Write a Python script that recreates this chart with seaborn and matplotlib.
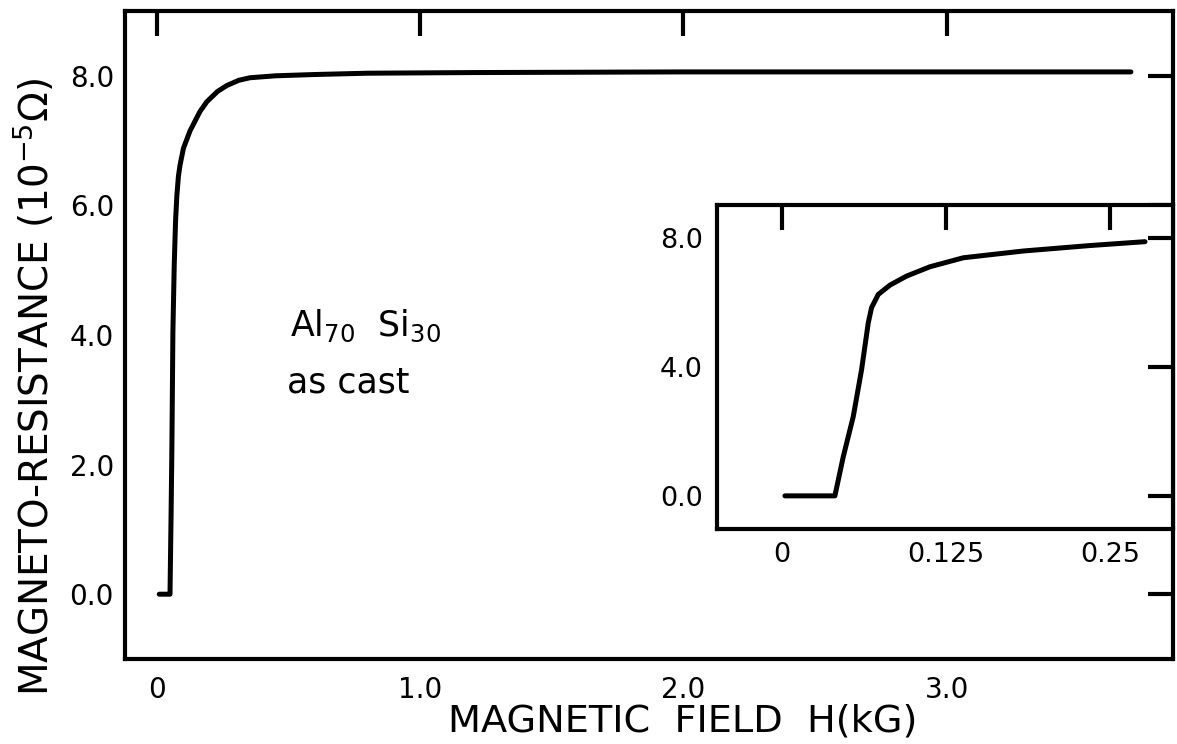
import numpy as np
import pandas as pd
import matplotlib
matplotlib.use("Agg")
import matplotlib.pyplot as plt
import seaborn as sns

# ---- data ----
main_H = [0.008, 0.049, 0.053, 0.056, 0.060, 0.065, 0.070, 0.075, 0.081, 0.087, 0.100, 0.125, 0.163,
          0.189, 0.230, 0.265, 0.310, 0.353, 0.45, 0.6, 0.8, 1.2, 2.0, 3.0, 3.70]
main_R = [0.0, 0.0, 1.2, 2.2, 4.05, 5.07, 5.75, 6.15, 6.45, 6.62, 6.88, 7.15, 7.45,
          7.6, 7.76, 7.85, 7.93, 7.97, 8.0, 8.02, 8.04, 8.05, 8.06, 8.06, 8.06]

inset_H = [0.0025, 0.0405, 0.0469, 0.0545, 0.0608, 0.0659, 0.0684, 0.0735, 0.0824,
           0.095, 0.1128, 0.1382, 0.1838, 0.2346, 0.2764]
inset_R = [0.0, 0.0, 1.22, 2.47, 3.92, 5.38, 5.85, 6.26, 6.55,
           6.83, 7.12, 7.40, 7.61, 7.78, 7.90]

main_xticks = [0, 1.0, 2.0, 3.0]
main_xticklabels = ["0", "1.0", "2.0", "3.0"]
main_yticks = [0, 2, 4, 6, 8]
main_yticklabels = ["0.0", "2.0", "4.0", "6.0", "8.0"]
inset_xticks = [0, 0.125, 0.25]
inset_xticklabels = ["0", "0.125", "0.25"]
inset_yticks = [0, 4, 8]
inset_yticklabels = ["0.0", "4.0", "8.0"]

x_label = "MAGNETIC  FIELD  H(kG)"
y_label = r"MAGNETO-RESISTANCE (10$^{-5}$$\Omega$)"
annot1 = r"Al$_{70}$  Si$_{30}$"
annot2 = "as cast"

sns.set_theme(style="white")
plt.rcParams["font.family"] = ["DejaVu Sans"]
plt.rcParams["mathtext.fontset"] = "dejavusans"

fig = plt.figure(figsize=(11.77, 7.44), dpi=100)
W, Hh = 1177, 744
ax = fig.add_axes([125 / W, 1 - 659 / Hh, (1173 - 125) / W, (659 - 11) / Hh])

df_main = pd.DataFrame({"H": main_H, "R": main_R})
sns.lineplot(data=df_main, x="H", y="R", ax=ax, color="black", lw=3.6,
             estimator=None, sort=False)
ax.set_xlim(-0.122, 3.86)
ax.set_ylim(-1.0, 9.0)
ax.set_xticks(main_xticks)
ax.set_xticklabels(main_xticklabels)
ax.set_yticks(main_yticks)
ax.set_yticklabels(main_yticklabels)
ax.tick_params(direction="in", length=18, width=3, top=True, right=True,
               labelsize=20, colors="black")
ax.tick_params(axis="x", pad=12)
ax.tick_params(axis="y", pad=8)
for s in ax.spines.values():
    s.set_linewidth(3)
    s.set_color("black")
ax.set_xlabel(x_label, fontsize=27.5, color="black")
ax.set_ylabel(y_label, fontsize=28, color="black")
ax.xaxis.set_label_coords(0.532, -0.069)
ax.yaxis.set_label_coords(-0.066, 0.42)

ax.text(0.505, 3.99, annot1, fontsize=25, ha="left", va="baseline", color="black")
ax.text(0.495, 3.12, annot2, fontsize=25, ha="left", va="baseline", color="black")

# inset
ins = fig.add_axes([716.7 / W, 1 - 529 / Hh, (1173 - 716.7) / W, (529 - 205) / Hh])
ins.set_facecolor("white")
df_ins = pd.DataFrame({"H": inset_H, "R": inset_R})
sns.lineplot(data=df_ins, x="H", y="R", ax=ins, color="black", lw=3.6,
             estimator=None, sort=False)
ins.set_xlim(-0.0494, 0.2977)
ins.set_ylim(-1.03, 9.04)
ins.set_xticks(inset_xticks)
ins.set_xticklabels(inset_xticklabels)
ins.set_yticks(inset_yticks)
ins.set_yticklabels(inset_yticklabels)
ins.tick_params(direction="in", length=18, width=3, top=True, right=True,
                labelsize=19.5, colors="black")
ins.tick_params(axis="x", pad=9)
ins.tick_params(axis="y", pad=10)
ins.set_xlabel("")
ins.set_ylabel("")
for s in ins.spines.values():
    s.set_linewidth(3)
    s.set_color("black")

fig.savefig("out.png", dpi=100)
